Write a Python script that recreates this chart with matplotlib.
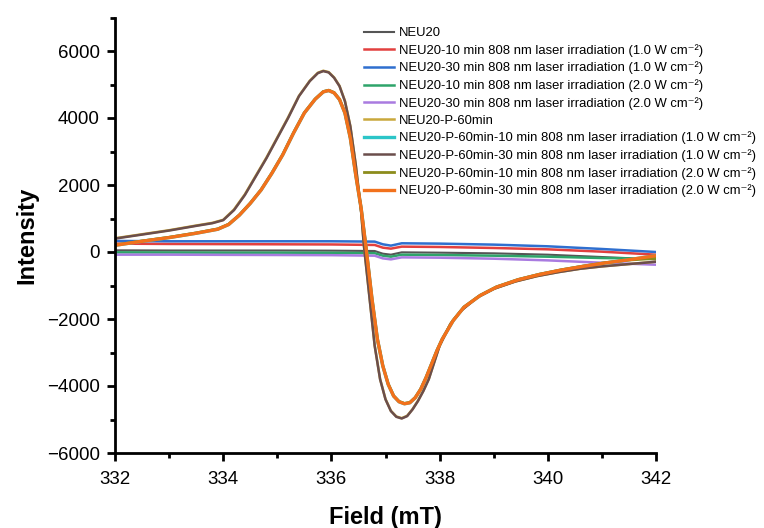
import matplotlib
matplotlib.use("Agg")
import matplotlib.pyplot as plt
from matplotlib.ticker import MultipleLocator

plt.rcParams['font.family'] = ['Liberation Sans', 'DejaVu Sans']

# ---- data ----
sup = " W cm\u207b\u00b2)"
labels = [
    "NEU20",
    "NEU20-10 min 808 nm laser irradiation (1.0" + sup,
    "NEU20-30 min 808 nm laser irradiation (1.0" + sup,
    "NEU20-10 min 808 nm laser irradiation (2.0" + sup,
    "NEU20-30 min 808 nm laser irradiation (2.0" + sup,
    "NEU20-P-60min",
    "NEU20-P-60min-10 min 808 nm laser irradiation (1.0" + sup,
    "NEU20-P-60min-30 min 808 nm laser irradiation (1.0" + sup,
    "NEU20-P-60min-10 min 808 nm laser irradiation (2.0" + sup,
    "NEU20-P-60min-30 min 808 nm laser irradiation (2.0" + sup,
]
colors = ["#555555", "#e2403f", "#2f6fcf", "#2ea46a", "#a97be0",
          "#c9a83c", "#2cc5c8", "#6b4e4c", "#8c8c1c", "#f2711c"]

field_small = [332, 333, 334, 335, 336, 336.8, 336.95, 337.1, 337.3, 338, 339, 340, 341, 342]
neu20       = [50, 45, 45, 45, 40, 30, -50, -80, -10, -20, -40, -80, -150, -220]
neu20_10_1  = [250, 240, 235, 230, 225, 210, 130, 100, 160, 150, 120, 80, 10, -80]
neu20_30_1  = [330, 320, 320, 320, 320, 310, 230, 190, 260, 250, 220, 170, 90, 0]
neu20_10_2  = [-10, -15, -20, -20, -25, -35, -110, -140, -80, -90, -110, -140, -180, -200]
neu20_30_2  = [-80, -80, -85, -90, -95, -110, -190, -220, -160, -170, -200, -250, -320, -380]

field_a = [332.0, 332.5, 333.0, 333.5, 333.8, 334.0, 334.2, 334.4, 334.6, 334.8,
           335.0, 335.2, 335.4, 335.6, 335.75, 335.85, 335.95, 336.05, 336.15, 336.25,
           336.35, 336.45, 336.55, 336.6, 336.7, 336.8, 336.9, 337.0, 337.1, 337.2,
           337.3, 337.4, 337.5, 337.6, 337.7, 337.8, 337.9, 338.0, 338.2, 338.4,
           338.7, 339.0, 339.4, 339.8, 340.2, 340.6, 341.0, 341.5, 342.0]
p60       = [410, 530, 650, 790, 870, 960, 1270, 1720, 2270, 2820,
             3420, 4020, 4660, 5110, 5350, 5410, 5370, 5210, 4960, 4510,
             3760, 2610, 1210, 210, -1290, -2790, -3790, -4390, -4740, -4910,
             -4960, -4890, -4690, -4440, -4140, -3790, -3290, -2790, -2140, -1740,
             -1350, -1100, -880, -720, -600, -500, -430, -360, -290]
p60_30_1  = [400, 520, 640, 780, 860, 950, 1250, 1700, 2250, 2800,
             3400, 4000, 4650, 5100, 5340, 5400, 5360, 5200, 4950, 4500,
             3750, 2600, 1200, 200, -1300, -2800, -3800, -4400, -4750, -4920,
             -4970, -4900, -4700, -4450, -4150, -3800, -3300, -2800, -2150, -1750,
             -1350, -1100, -880, -720, -600, -500, -430, -360, -290]

field_b = [332.0, 332.5, 333.0, 333.5, 333.9, 334.1, 334.3, 334.5, 334.7, 334.9,
           335.1, 335.3, 335.5, 335.7, 335.85, 335.95, 336.05, 336.15, 336.25, 336.35,
           336.45, 336.55, 336.65, 336.75, 336.85, 336.95, 337.05, 337.15, 337.25, 337.35,
           337.45, 337.55, 337.65, 337.75, 337.85, 337.95, 338.05, 338.25, 338.45, 338.75,
           339.05, 339.45, 339.85, 340.25, 340.65, 341.05, 341.5, 342.0]
p60_10_2  = [210, 330, 440, 570, 690, 830, 1110, 1460, 1860, 2360,
             2910, 3560, 4160, 4570, 4790, 4830, 4760, 4560, 4160, 3410,
             2310, 1310, 10, -1390, -2590, -3390, -3940, -4290, -4460, -4520,
             -4490, -4340, -4090, -3740, -3340, -2940, -2590, -2040, -1640, -1290,
             -1040, -820, -660, -530, -420, -320, -240, -190]
p60_30_2  = [200, 320, 430, 560, 680, 820, 1100, 1450, 1850, 2350,
             2900, 3550, 4150, 4560, 4780, 4820, 4750, 4550, 4150, 3400,
             2300, 1300, 0, -1400, -2600, -3400, -3950, -4300, -4470, -4530,
             -4500, -4350, -4100, -3750, -3350, -2950, -2600, -2050, -1650, -1300,
             -1050, -830, -670, -540, -430, -330, -230, -110]
p60_10_1  = p60_30_2

series = [
    (field_small, neu20), (field_small, neu20_10_1), (field_small, neu20_30_1),
    (field_small, neu20_10_2), (field_small, neu20_30_2),
    (field_a, p60), (field_b, p60_10_1), (field_a, p60_30_1),
    (field_b, p60_10_2), (field_b, p60_30_2),
]
widths = [1.5, 1.8, 1.8, 1.8, 1.8, 1.8, 2.4, 1.8, 2.0, 2.4]

fig = plt.figure(figsize=(7.64, 5.28), dpi=100)
ax = fig.add_axes([115/764, 1 - 453/528, (656 - 115)/764, (453 - 17.5)/528])

handles = []
for (x, y), c, lw, lab in zip(series, colors, widths, labels):
    h, = ax.plot(x, y, color=c, lw=lw, label=lab)
    handles.append(h)

ax.set_xlim(332, 342)
ax.set_ylim(-6000, 7000)
ax.xaxis.set_major_locator(MultipleLocator(2))
ax.xaxis.set_minor_locator(MultipleLocator(1))
ax.yaxis.set_minor_locator(MultipleLocator(1000))
ax.set_yticks([-6000, -4000, -2000, 0, 2000, 4000, 6000])
ax.set_yticklabels(['\u22126000', '\u22124000', '\u22122000', '0', '2000', '4000', '6000'])
for s in ['top', 'right']:
    ax.spines[s].set_visible(False)
for s in ['left', 'bottom']:
    ax.spines[s].set_linewidth(2.0)
ax.tick_params(which='major', direction='out', length=6, width=2.0, labelsize=13.5, pad=5)
ax.tick_params(axis='x', which='major', pad=7)
ax.tick_params(which='minor', direction='out', length=3.5, width=2.0)

ax.set_xlabel('Field (mT)', fontsize=17, fontweight='bold', labelpad=13)
ax.set_ylabel('Intensity', fontsize=17, fontweight='bold', labelpad=6)

leg = fig.legend(handles=handles, loc='upper left', bbox_to_anchor=(364/764, 1 - 27/528),
                 frameon=False, fontsize=9.4, handlelength=2.3, handletextpad=0.35,
                 labelspacing=0.37, borderpad=0, borderaxespad=0)

fig.savefig('out.png', dpi=100)
